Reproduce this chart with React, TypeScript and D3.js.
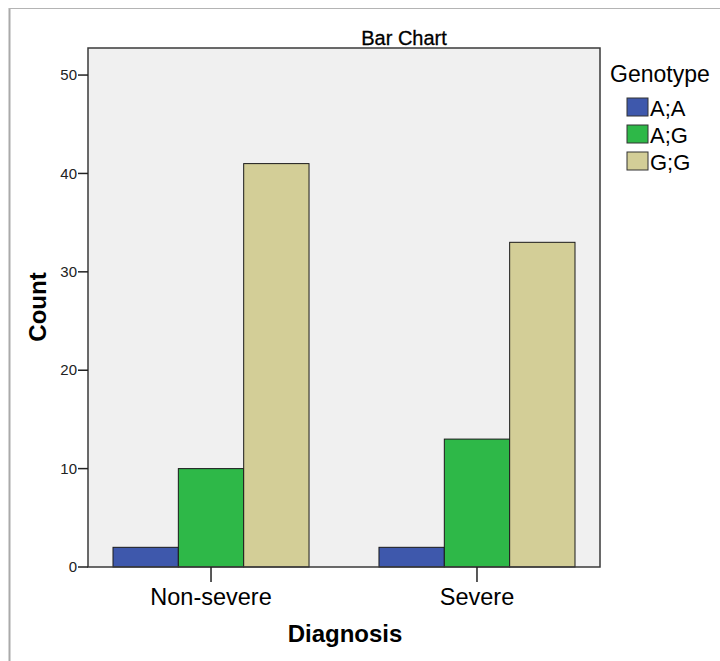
import React from "react";
import * as d3 from "d3";

const categories = ["Non-severe", "Severe"];
const genotypes = ["A;A", "A;G", "G;G"];
const nonSevereCounts = [2, 10, 41];
const severeCounts = [2, 13, 33];
const seriesByCategory = [nonSevereCounts, severeCounts];
const yTicks = [0, 10, 20, 30, 40, 50];
const colors = ["#3e58ac", "#2eb848", "#d3ce97"];

const W = 720;
const H = 661;
const plot = { left: 88, right: 600, top: 48, bottom: 567 };
const FONT = "'Liberation Sans', Arial, sans-serif";

export default function App() {
  const y = d3.scaleLinear().domain([0, 52.75]).range([plot.bottom, plot.top]);
  const x0 = d3
    .scaleBand<string>()
    .domain(categories)
    .range([plot.left, plot.right])
    .paddingInner(0.263)
    .paddingOuter(0.094);
  const x1 = d3.scaleBand<string>().domain(genotypes).range([0, x0.bandwidth()]);

  return (
    <svg
      width={W}
      height={H}
      style={{ position: "absolute", left: 0, top: 0, background: "#fff" }}
      fontFamily={FONT}
    >
      {/* outer frame */}
      <line x1={9.5} x2={9.5} y1={8} y2={H} stroke="#aaaaaa" strokeWidth={2} />
      <line x1={9} x2={W} y1={8.5} y2={8.5} stroke="#b4b4b4" strokeWidth={1} />

      {/* title */}
      <text x={404} y={45} textAnchor="middle" fontSize={20} fill="#000" stroke="#000" strokeWidth={0.3}>
        Bar Chart
      </text>

      {/* plot background */}
      <rect
        x={plot.left}
        y={plot.top}
        width={plot.right - plot.left}
        height={plot.bottom - plot.top}
        fill="#f0f0f0"
      />

      {/* bars */}
      {categories.map((c, ci) =>
        genotypes.map((g, gi) => {
          const v = seriesByCategory[ci][gi];
          const bx = (x0(c) ?? 0) + (x1(g) ?? 0);
          return (
            <rect
              key={c + g}
              x={bx}
              y={y(v)}
              width={x1.bandwidth()}
              height={y(0) - y(v)}
              fill={colors[gi]}
              stroke="#1a1a1a"
              strokeWidth={1}
            />
          );
        })
      )}

      {/* plot border */}
      <rect
        x={plot.left}
        y={plot.top}
        width={plot.right - plot.left}
        height={plot.bottom - plot.top}
        fill="none"
        stroke="#3a3a3a"
        strokeWidth={1.5}
      />

      {/* y ticks */}
      {yTicks.map((t) => (
        <g key={t}>
          <line x1={78} x2={plot.left} y1={y(t)} y2={y(t)} stroke="#222" strokeWidth={1.5} />
          <text x={77} y={y(t)} dy="0.35em" textAnchor="end" fontSize={15} fill="#222">
            {t}
          </text>
        </g>
      ))}

      {/* x ticks */}
      {categories.map((c) => {
        const cx = (x0(c) ?? 0) + x0.bandwidth() / 2;
        return (
          <g key={c}>
            <line x1={cx} x2={cx} y1={plot.bottom} y2={plot.bottom + 15} stroke="#222" strokeWidth={1.5} />
            <text x={cx} y={605} textAnchor="middle" fontSize={23.5} fill="#000">
              {c}
            </text>
          </g>
        );
      })}

      {/* axis titles */}
      <text x={345} y={642} textAnchor="middle" fontSize={24} fontWeight="bold" fill="#000">
        Diagnosis
      </text>
      <text
        transform={`translate(46, 307) rotate(-90)`}
        textAnchor="middle"
        fontSize={24}
        fontWeight="bold"
        fill="#000"
      >
        Count
      </text>

      {/* legend */}
      <text x={610} y={82} fontSize={23} fill="#000">
        Genotype
      </text>
      {genotypes.map((g, gi) => (
        <g key={g}>
          <rect x={627} y={98 + gi * 27} width={21} height={18} fill={colors[gi]} stroke="#333" strokeWidth={1} />
          <text x={650} y={116 + gi * 27} fontSize={22} fill="#000">
            {g}
          </text>
        </g>
      ))}
    </svg>
  );
}
